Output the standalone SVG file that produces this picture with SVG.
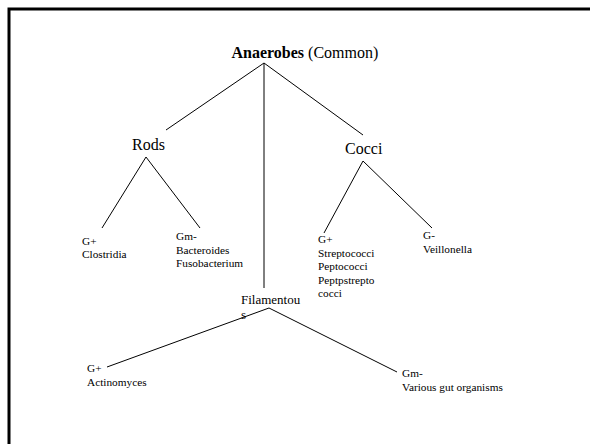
<svg xmlns="http://www.w3.org/2000/svg" width="590" height="444" viewBox="0 0 590 444">
<style>
.t{font-family:'Liberation Serif','Times New Roman','DejaVu Serif',serif;fill:#000}
.big{font-size:16px}
.mid{font-size:13px}
.sm{font-size:11.3px}
.c line{stroke:#000;stroke-width:1}
</style>
<rect width="590" height="444" fill="#fff"/>
<path d="M9,444 V9 H590" fill="none" stroke="#000" stroke-width="3"/>
<g class="c" id="connectors">
<line x1="264" y1="63" x2="166" y2="130"/>
<line x1="264" y1="63" x2="363" y2="135"/>
<line x1="264" y1="63" x2="264" y2="288"/>
<line x1="146" y1="157" x2="102" y2="228"/>
<line x1="146" y1="157" x2="200" y2="228"/>
<line x1="363" y1="161" x2="324" y2="233"/>
<line x1="363" y1="161" x2="432" y2="228"/>
<line x1="269" y1="308" x2="107" y2="367"/>
<line x1="269" y1="308" x2="397" y2="372"/>
</g>
<g class="t" font-family="Liberation Serif, serif">
<g id="root"><text class="big" x="231.5" y="58"><tspan font-weight="bold">Anaerobes</tspan> (Common)</text></g>
<g id="rods"><text class="big" x="132" y="150">Rods</text></g>
<g id="cocci"><text class="big" x="345" y="154">Cocci</text></g>
<g id="filamentous"><text class="mid" x="241" y="304">Filamentou</text><text class="mid" x="241" y="319">s</text></g>
<g id="rods-gpos"><text class="sm" x="82" y="245">G+</text><text class="sm" x="82" y="258">Clostridia</text></g>
<g id="rods-gneg"><text class="sm" x="176" y="240">Gm-</text><text class="sm" x="176" y="253.5">Bacteroides</text><text class="sm" x="176" y="267">Fusobacterium</text></g>
<g id="cocci-gpos"><text class="sm" x="318" y="243">G+</text><text class="sm" x="318" y="256.5">Streptococci</text><text class="sm" x="318" y="270">Peptococci</text><text class="sm" x="318" y="283.5">Peptpstrepto</text><text class="sm" x="318" y="297">cocci</text></g>
<g id="cocci-gneg"><text class="sm" x="423" y="239">G-</text><text class="sm" x="423" y="253">Veillonella</text></g>
<g id="fil-gpos"><text class="sm" x="87" y="372">G+</text><text class="sm" x="87" y="386">Actinomyces</text></g>
<g id="fil-gneg"><text class="sm" x="402" y="377">Gm-</text><text class="sm" x="402" y="391">Various gut organisms</text></g>
</g>
</svg>
